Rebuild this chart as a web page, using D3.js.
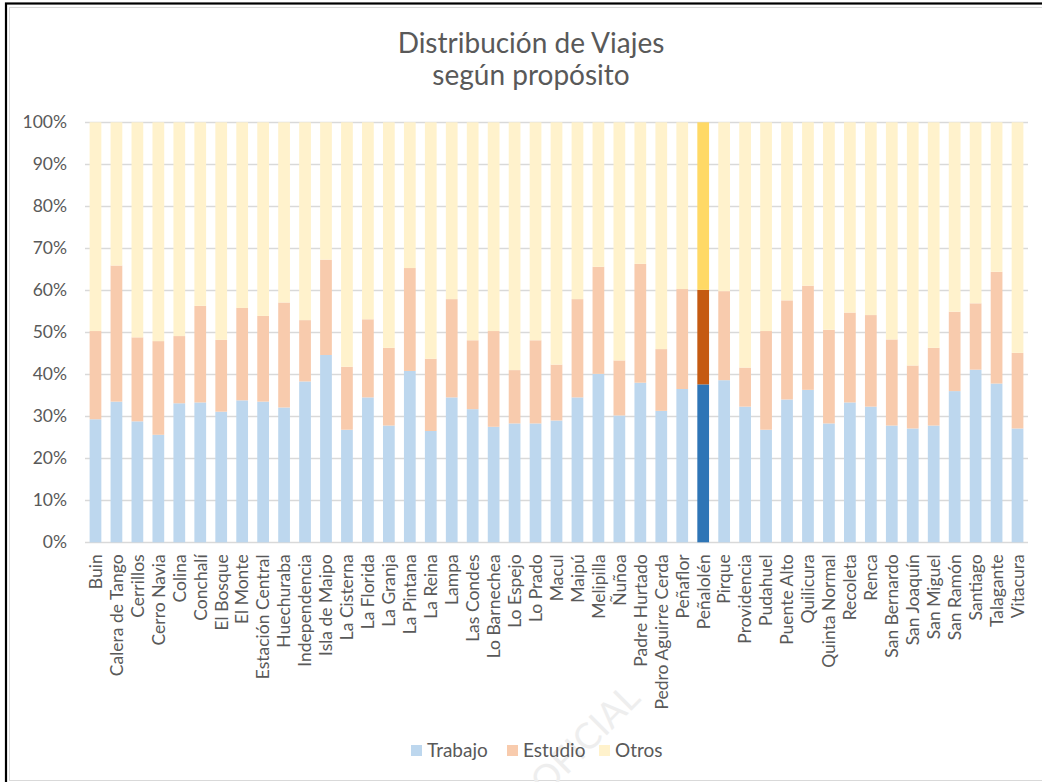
<!DOCTYPE html>
<html>
<head>
<meta charset="utf-8">
<script src="https://cdn.jsdelivr.net/npm/d3@7"></script>
<style>
  body { margin: 0; background: #fff; }
  svg text { font-family: Lato, "Open Sans", sans-serif; fill: #595959; }
</style>
</head>
<body>
<svg id="chart" width="1042" height="782"></svg>
<script>
// Comunas (categories), in the order shown
var comunas = ["Buin", "Calera de Tango", "Cerrillos", "Cerro Navia", "Colina", "Conchalí",
  "El Bosque", "El Monte", "Estación Central", "Huechuraba", "Independencia", "Isla de Maipo",
  "La Cisterna", "La Florida", "La Granja", "La Pintana", "La Reina", "Lampa", "Las Condes",
  "Lo Barnechea", "Lo Espejo", "Lo Prado", "Macul", "Maipú", "Melipilla", "Ñuñoa",
  "Padre Hurtado", "Pedro Aguirre Cerda", "Peñaflor", "Peñalolén", "Pirque", "Providencia",
  "Pudahuel", "Puente Alto", "Quilicura", "Quinta Normal", "Recoleta", "Renca",
  "San Bernardo", "San Joaquín", "San Miguel", "San Ramón", "Santiago", "Talagante", "Vitacura"];

// share of trips (%) per purpose
var trabajo = [29.3, 33.5, 28.8, 25.6, 33.1, 33.3, 31.1, 33.8, 33.5, 32.1, 38.3, 44.6,
  26.8, 34.5, 27.8, 40.8, 26.5, 34.5, 31.7, 27.5, 28.3, 28.3, 29.0, 34.5, 40.1, 30.2,
  38.0, 31.3, 36.5, 37.6, 38.6, 32.3, 26.8, 34.0, 36.3, 28.3, 33.3, 32.3, 27.8, 27.1,
  27.8, 36.0, 41.1, 37.8, 27.1];
var estudio = [21.0, 32.4, 20.0, 22.3, 16.0, 23.0, 17.1, 22.0, 20.4, 25.0, 14.6, 22.7,
  15.0, 18.6, 18.5, 24.5, 17.2, 23.4, 16.4, 22.8, 12.7, 19.8, 13.3, 23.4, 25.5, 13.1,
  28.3, 14.7, 23.8, 22.5, 21.2, 9.3, 23.5, 23.6, 24.8, 22.3, 21.4, 21.8, 20.5, 15.0,
  18.5, 18.9, 15.8, 26.6, 18.0];
var otros = [49.7, 34.1, 51.2, 52.1, 50.9, 43.7, 51.8, 44.2, 46.1, 42.9, 47.1, 32.7,
  58.2, 46.9, 53.7, 34.7, 56.3, 42.1, 51.9, 49.7, 59.0, 51.9, 57.7, 42.1, 34.4, 56.7,
  33.7, 54.0, 39.7, 39.9, 40.2, 58.4, 49.7, 42.4, 38.9, 49.4, 45.3, 45.9, 51.7, 57.9,
  53.7, 45.1, 43.1, 35.6, 54.9];

var series = ["Trabajo", "Estudio", "Otros"];
var yTicks = [0, 10, 20, 30, 40, 50, 60, 70, 80, 90, 100];
var destacada = "Peñalolén";

var colors = { Trabajo: "#bdd7ee", Estudio: "#f8cbad", Otros: "#fff2cc" };
var colorsDest = { Trabajo: "#2e75b6", Estudio: "#c55a11", Otros: "#ffd966" };

var rows = comunas.map(function(c, i) {
  return { comuna: c, Trabajo: trabajo[i], Estudio: estudio[i], Otros: otros[i] };
});

var svg = d3.select("#chart");

// outer frame
svg.append("rect")
  .attr("x", 6).attr("y", 3.5).attr("width", 1060).attr("height", 800)
  .attr("fill", "none").attr("stroke", "#000").attr("stroke-width", 2.2);
svg.append("rect")
  .attr("x", 9.5).attr("y", 7.5).attr("width", 1060).attr("height", 773)
  .attr("fill", "none").attr("stroke", "#d9d9d9").attr("stroke-width", 1);

// faint watermark (behind everything else)
svg.append("text")
  .attr("transform", "translate(642,700) rotate(-45)")
  .attr("text-anchor", "end")
  .style("font-size", "36px")
  .style("fill", "#eeeeee")
  .text("OFICIAL");

// plot area
var plotLeft = 85, plotRight = 1028, plotTop = 122.3, plotBottom = 542.3;

var x = d3.scaleBand()
  .domain(comunas)
  .range([plotLeft, plotRight])
  .paddingInner(0.44)
  .paddingOuter(0.22);

var y = d3.scaleLinear()
  .domain([0, 100])
  .range([plotBottom, plotTop]);

// gridlines
svg.append("g")
  .selectAll("line")
  .data(yTicks)
  .enter().append("line")
  .attr("x1", plotLeft).attr("x2", plotRight)
  .attr("y1", function(d) { return Math.round(y(d)) + 0.5; })
  .attr("y2", function(d) { return Math.round(y(d)) + 0.5; })
  .attr("stroke", "#d9d9d9")
  .attr("stroke-width", 1.3);

// y axis labels
var yAxis = d3.axisLeft(y)
  .tickValues(yTicks)
  .tickSize(0)
  .tickPadding(0)
  .tickFormat(function(d) { return d + "%"; });

var gy = svg.append("g")
  .attr("transform", "translate(67,0)")
  .call(yAxis);
gy.select(".domain").remove();
gy.selectAll("text")
  .style("font-size", "17.5px")
  .attr("fill", "#595959");

// stacked bars
var stack = d3.stack().keys(series);
var layers = stack(rows);

svg.append("g")
  .selectAll("g")
  .data(layers)
  .enter().append("g")
  .each(function(layer) {
    d3.select(this).selectAll("rect")
      .data(layer)
      .enter().append("rect")
      .attr("x", function(d) { return x(d.data.comuna); })
      .attr("width", x.bandwidth())
      .attr("y", function(d) { return y(d[1]); })
      .attr("height", function(d) { return y(d[0]) - y(d[1]); })
      .attr("fill", function(d) {
        return d.data.comuna === destacada ? colorsDest[layer.key] : colors[layer.key];
      });
  });

// x axis labels (rotated)
var xAxis = d3.axisBottom(x).tickSize(0).tickPadding(0);
var gx = svg.append("g")
  .attr("transform", "translate(0," + (plotBottom + 12) + ")")
  .call(xAxis);
gx.select(".domain").remove();
gx.selectAll("text")
  .attr("transform", "rotate(-90)")
  .attr("text-anchor", "end")
  .attr("x", 0)
  .attr("y", 0)
  .attr("dy", "0.36em")
  .style("font-size", "17.5px")
  .attr("fill", "#595959");

// title
svg.append("text")
  .attr("x", 531).attr("y", 53)
  .attr("text-anchor", "middle")
  .style("font-size", "28px")
  .text("Distribución de Viajes");
svg.append("text")
  .attr("x", 531).attr("y", 85)
  .attr("text-anchor", "middle")
  .style("font-size", "28px")
  .text("según propósito");

// legend
var legendX = [411, 507, 599];
var legend = svg.append("g")
  .selectAll("g")
  .data(series)
  .enter().append("g")
  .attr("transform", function(d, i) { return "translate(" + legendX[i] + ",745)"; });
legend.append("rect")
  .attr("width", 11).attr("height", 11)
  .attr("fill", function(d) { return colors[d]; });
legend.append("text")
  .attr("x", 16).attr("y", 11.5)
  .style("font-size", "19px")
  .text(function(d) { return d; });
</script>
</body>
</html>
